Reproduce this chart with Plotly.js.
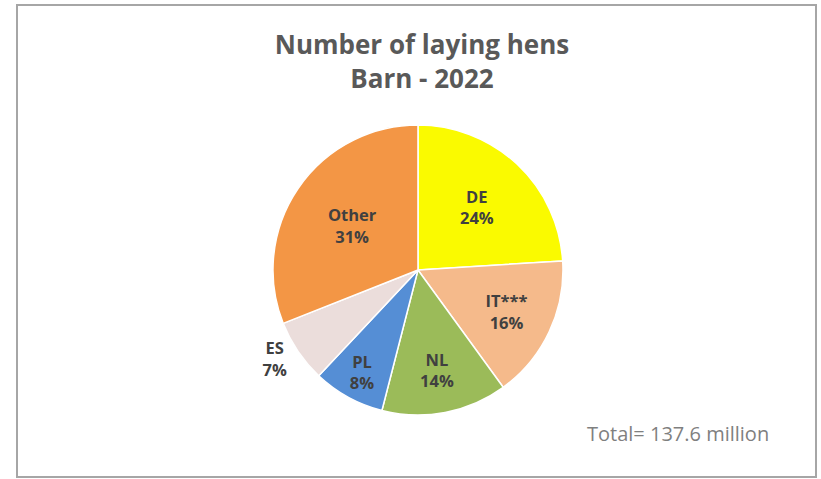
<!DOCTYPE html>
<html>
<head>
<meta charset="utf-8">
<script src="https://cdn.plot.ly/plotly-3.0.1.min.js"></script>
<style>html,body{margin:0;padding:0;background:#fff;}#chart{width:821px;height:479px;}</style>
</head>
<body>
<div id="chart"></div>
<script>
const categories = ["DE", "IT***", "NL", "PL", "ES", "Other"];
const sharePercent = [24, 16, 14, 8, 7, 31];
const sliceColors = ["#FAFA00", "#F5BA8B", "#9BBB59", "#558ED5", "#EBDDDB", "#F39645"];
const textPositions = ["inside", "inside", "inside", "inside", "outside", "inside"];
const titleLines = ["Number of laying hens", "Barn - 2022"];
const totalNote = "Total= 137.6 million";

const labelFont = "'Open Sans', Lato, sans-serif";

const trace = {
  type: "pie",
  labels: categories,
  values: sharePercent,
  sort: false,
  direction: "clockwise",
  rotation: 0,
  marker: { colors: sliceColors, line: { color: "#ffffff", width: 1.5 } },
  texttemplate: "<b>%{label}<br>%{percent:.0%}</b>",
  textposition: textPositions,
  insidetextorientation: "horizontal",
  textfont: { family: labelFont, size: 16.5, color: "#404040" },
  outsidetextfont: { family: labelFont, size: 16.5, color: "#404040" },
  hoverinfo: "label+percent",
  domain: { x: [0.3325, 0.6857], y: [0.1336, 0.739] },
  showlegend: false
};

const layout = {
  width: 821, height: 479,
  margin: { l: 0, r: 0, t: 0, b: 0 },
  paper_bgcolor: "#ffffff",
  font: { family: labelFont, color: "#595959" },
  title: {
    text: "<b>" + titleLines.join("<br>") + "</b>",
    font: { family: labelFont, size: 26, color: "#595959" },
    x: 0.514, xanchor: "center",
    y: 1 - 54 / 479, yanchor: "top"
  },
  shapes: [{
    type: "rect", xref: "paper", yref: "paper",
    x0: 17 / 821, x1: 816 / 821, y0: 1 - 477 / 479, y1: 1 - 5 / 479,
    line: { color: "#a6a6a6", width: 2 }
  }],
  annotations: [{
    text: totalNote, xref: "paper", yref: "paper",
    x: 678 / 821, y: 1 - 433 / 479, xanchor: "center", yanchor: "middle",
    showarrow: false,
    font: { family: labelFont, size: 20, color: "#7f7f7f" }
  }]
};

Plotly.newPlot("chart", [trace], layout, { displayModeBar: false, staticPlot: true });
</script>
</body>
</html>
